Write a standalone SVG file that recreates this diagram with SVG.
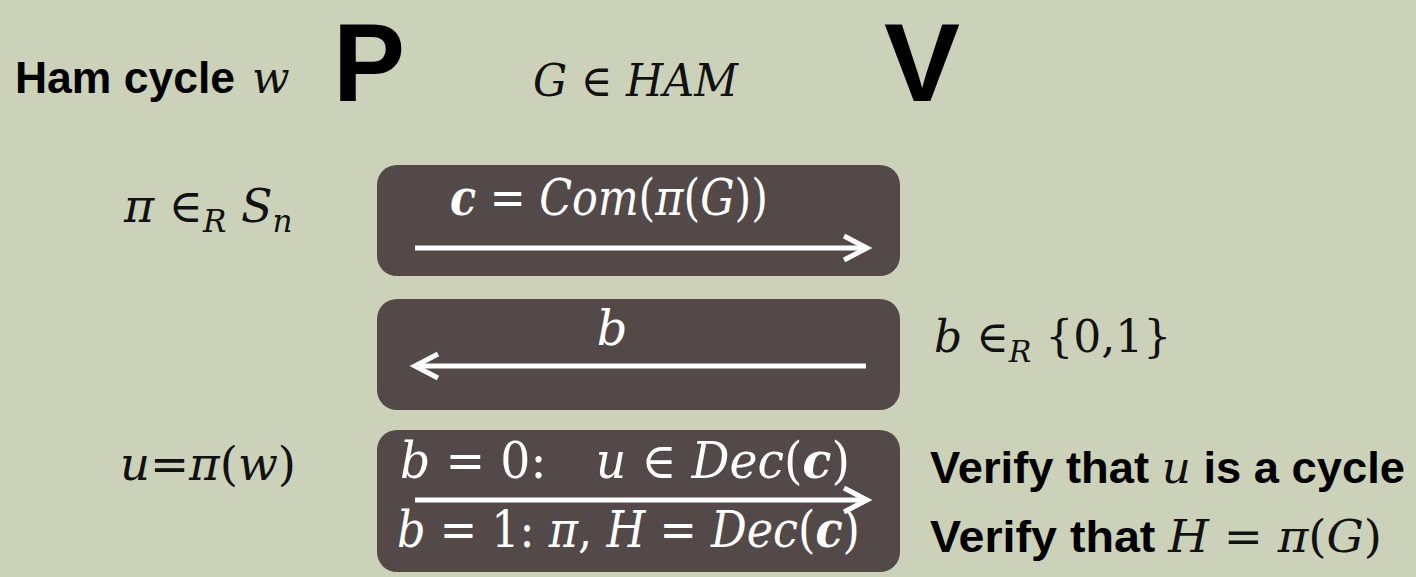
<svg xmlns="http://www.w3.org/2000/svg" width="1416" height="577" viewBox="0 0 1416 577">
<style>
.sans{font-family:"Liberation Sans",Arial,sans-serif;font-weight:bold;fill:#000}
.m{font-family:"DejaVu Serif","Liberation Serif",serif;font-style:italic;fill:#111}
.up{font-style:normal}
.bd{font-weight:bold}
.w{fill:#fff}
.box{fill:#534948}
.arr{stroke:#fff;stroke-width:5;fill:none}
</style>
<defs>
<marker id="ah" markerWidth="10" markerHeight="10" refX="7" refY="5" orient="auto" markerUnits="userSpaceOnUse" viewBox="0 0 10 10" overflow="visible">
<path d="M-16,-7 L7,5 L-16,17" fill="none" stroke="#fff" stroke-width="5" stroke-linejoin="miter"/>
</marker>
</defs>
<rect width="1416" height="577" fill="#CCD1B9"/>
<g id="prover">
<text class="sans" x="15" y="93" font-size="45" textLength="220" lengthAdjust="spacingAndGlyphs">Ham cycle</text>
<text class="m" x="252" y="93" font-size="44">w</text>
<text class="sans" x="333" y="101" font-size="112" textLength="72" lengthAdjust="spacingAndGlyphs">P</text>
</g>
<g id="statement">
<text class="m" x="533" y="96" font-size="44" textLength="205" lengthAdjust="spacingAndGlyphs">G <tspan class="up">∈</tspan> HAM</text>
</g>
<g id="verifier">
<text class="sans" x="884" y="101" font-size="112" textLength="76" lengthAdjust="spacingAndGlyphs">V</text>
</g>
<g id="prover-perm">
<text class="m" x="124" y="222" font-size="46">π <tspan class="up">∈</tspan><tspan font-size="31" dy="10">R</tspan><tspan dy="-10"> S</tspan><tspan font-size="31" dy="10">n</tspan></text>
</g>
<g id="msg1">
<rect class="box" x="377" y="165" width="523" height="111" rx="20"/>
<text class="m w" x="450" y="215" font-size="50" textLength="318" lengthAdjust="spacingAndGlyphs"><tspan class="bd">c</tspan><tspan class="up"> = </tspan>Com<tspan class="up">(</tspan>π<tspan class="up">(</tspan>G<tspan class="up">))</tspan></text>
</g>
<g id="msg2">
<rect class="box" x="377" y="299" width="523" height="111" rx="20"/>
<text class="m w" x="612" y="345" font-size="48" text-anchor="middle">b</text>
</g>
<g id="verifier-coin">
<text class="m" x="934" y="352" font-size="44">b <tspan class="up">∈</tspan><tspan font-size="30" dy="10">R</tspan><tspan class="up" dy="-10"> {0,1}</tspan></text>
</g>
<g id="prover-u">
<text class="m" x="120" y="480" font-size="46" textLength="176" lengthAdjust="spacingAndGlyphs">u<tspan class="up">=</tspan>π<tspan class="up">(</tspan>w<tspan class="up">)</tspan></text>
</g>
<g id="msg3">
<rect class="box" x="377" y="430" width="523" height="142" rx="20"/>
<text class="m w" x="400" y="478" font-size="50" textLength="450" lengthAdjust="spacingAndGlyphs">b<tspan class="up"> = 0:</tspan><tspan dx="52">u</tspan><tspan class="up"> ∈ </tspan>Dec<tspan class="up">(</tspan><tspan class="bd">c</tspan><tspan class="up">)</tspan></text>
<text class="m w" x="397" y="547" font-size="50" textLength="463" lengthAdjust="spacingAndGlyphs">b<tspan class="up"> = 1: </tspan>π<tspan class="up">, </tspan>H<tspan class="up"> = </tspan>Dec<tspan class="up">(</tspan><tspan class="bd">c</tspan><tspan class="up">)</tspan></text>
</g>
<g id="verify">
<text x="930" y="483" font-size="45" textLength="475" lengthAdjust="spacingAndGlyphs"><tspan class="sans">Verify that </tspan><tspan class="m">u</tspan><tspan class="sans"> is a cycle</tspan></text>
<text x="930" y="552" font-size="45" textLength="452" lengthAdjust="spacingAndGlyphs"><tspan class="sans">Verify that </tspan><tspan class="m">H </tspan><tspan class="m up">= </tspan><tspan class="m">π</tspan><tspan class="m up">(</tspan><tspan class="m">G</tspan><tspan class="m up">)</tspan></text>
</g>
<g id="connectors">
<line class="arr" x1="415" y1="248" x2="867" y2="248" marker-end="url(#ah)"/>
<line class="arr" x1="866" y1="366" x2="415" y2="366" marker-end="url(#ah)"/>
<line class="arr" x1="415" y1="500" x2="867" y2="500" marker-end="url(#ah)"/>
</g>
</svg>
